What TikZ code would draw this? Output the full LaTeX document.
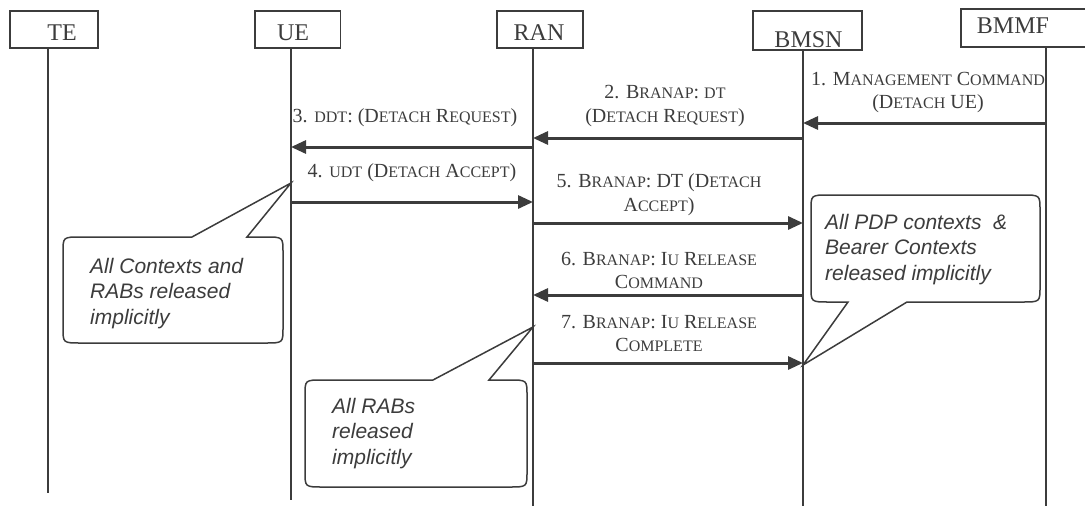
\documentclass[tikz,border=0pt]{standalone}
\usepackage{fontspec}
\setmainfont{Liberation Serif}
\newfontfamily\notefont{Liberation Sans}
\usetikzlibrary{arrows.meta}
\definecolor{ink}{HTML}{3C3C3C}
% small caps by hand
\newcommand\sm[1]{{\fontsize{16}{16}\selectfont #1}}
\begin{document}
\begin{tikzpicture}[x=1pt,y=-1pt,
  box/.style={draw=ink,line width=1.5pt},
  entname/.style={inner sep=0pt,text=ink,font=\fontsize{24}{24}\selectfont},
  life/.style={draw=ink,line width=1.5pt},
  msg/.style={draw=ink,line width=3pt,-{Triangle[length=15pt,width=13pt]}},
  msglabel/.style={inner sep=0pt,align=center,text=ink,font=\fontsize{20}{23.5}\selectfont},
  callout/.style={draw=ink,line width=1.5pt,fill=white},
  notetext/.style={inner sep=0pt,anchor=north west,align=left,text=ink,font=\notefont\itshape\fontsize{21}{25.5}\selectfont}]
\useasboundingbox (0,0) rectangle (1085,506);
%entities
\draw[box] (10,11) rectangle (98,48);
\node[entname] (te) at (62,33) {TE};
\draw[box] (255,11) rectangle (340.5,48);
\node[entname] (ue) at (293,33) {UE};
\draw[box] (497,11) rectangle (583,48);
\node[entname] (ran) at (539,33) {RAN};
\draw[box] (753,11) rectangle (862,50);
\node[entname] (bmsn) at (808.5,40) {BMSN};
\draw[box] (961,9) rectangle (1095,47);
\node[entname] (bmmf) at (1013,26) {BMMF};
%lifelines
\coordinate (te-top) at (48,48);     \coordinate (te-end) at (48,493);
\coordinate (ue-top) at (291,48);    \coordinate (ue-end) at (291,500);
\coordinate (ran-top) at (533,48);   \coordinate (ran-end) at (533,506);
\coordinate (bmsn-top) at (803,50);  \coordinate (bmsn-end) at (803,506);
\coordinate (bmmf-top) at (1046,47); \coordinate (bmmf-end) at (1046,506);
\foreach \e in {te,ue,ran,bmsn,bmmf}
  \draw[life] (\e-top) -- (\e-end);
%messages
\draw[msg] (bmmf-top |- 0,123) -- (bmsn-top |- 0,123);
\node[msglabel] (m1) at (928,92.5) {1. M\sm{ANAGEMENT} C\sm{OMMAND}\\(D\sm{ETACH} UE)};
\draw[msg] (bmsn-top |- 0,138) -- (ran-top |- 0,138);
\node[msglabel] (m2) at (665,106) {2. B\sm{RANAP}: \sm{DT}\\(D\sm{ETACH} R\sm{EQUEST})};
\draw[msg] (ran-top |- 0,147) -- (ue-top |- 0,147);
\node[msglabel] (m3) at (405,118) {3. \sm{DDT}: (D\sm{ETACH} R\sm{EQUEST})};
\draw[msg] (ue-top |- 0,202) -- (ran-top |- 0,202);
\node[msglabel] (m4) at (412,173) {4. \sm{UDT} (D\sm{ETACH} A\sm{CCEPT})};
\draw[msg] (ran-top |- 0,223) -- (bmsn-top |- 0,223);
\node[msglabel] (m5) at (659,194.5) {5. B\sm{RANAP}: DT (D\sm{ETACH}\\A\sm{CCEPT})};
\draw[msg] (bmsn-top |- 0,295) -- (ran-top |- 0,295);
\node[msglabel] (m6) at (659,270.5) {6. B\sm{RANAP}: I\sm{U} R\sm{ELEASE}\\C\sm{OMMAND}};
\draw[msg] (ran-top |- 0,363) -- (bmsn-top |- 0,363);
\node[msglabel] (m7) at (659,333.5) {7. B\sm{RANAP}: I\sm{U} R\sm{ELEASE}\\C\sm{OMPLETE}};
%callouts
\draw[callout] (ue-top |- 0,183) -- (247,237) -- (265,237) .. controls (283,237) .. (283,252)
  -- (283,328) .. controls (283,343) .. (265,343) -- (81,343) .. controls (63,343) .. (63,328)
  -- (63,252) .. controls (63,237) .. (81,237) -- (192,237) -- cycle;
\node[notetext] (n1) at (90,258) {All Contexts and\\RABs released\\implicitly};
\draw[callout] (ran-top |- 0,327) -- (489,380) -- (509,380) .. controls (527,380) .. (527,395)
  -- (527,472) .. controls (527,487) .. (509,487) -- (323,487) .. controls (305,487) .. (305,472)
  -- (305,395) .. controls (305,380) .. (323,380) -- (433,380) -- cycle;
\node[notetext] (n2) at (332,398) {All RABs\\released\\implicitly};
\draw[callout] (bmsn-top |- 0,365) -- (848,302) -- (829,302) .. controls (811,302) .. (811,287)
  -- (811,210) .. controls (811,195) .. (829,195) -- (1022,195) .. controls (1040,195) .. (1040,210)
  -- (1040,287) .. controls (1040,302) .. (1022,302) -- (907,302) -- cycle;
\node[notetext] (n3) at (825,214) {All PDP contexts \ \&\\Bearer Contexts\\released implicitly};
\end{tikzpicture}
\end{document}
